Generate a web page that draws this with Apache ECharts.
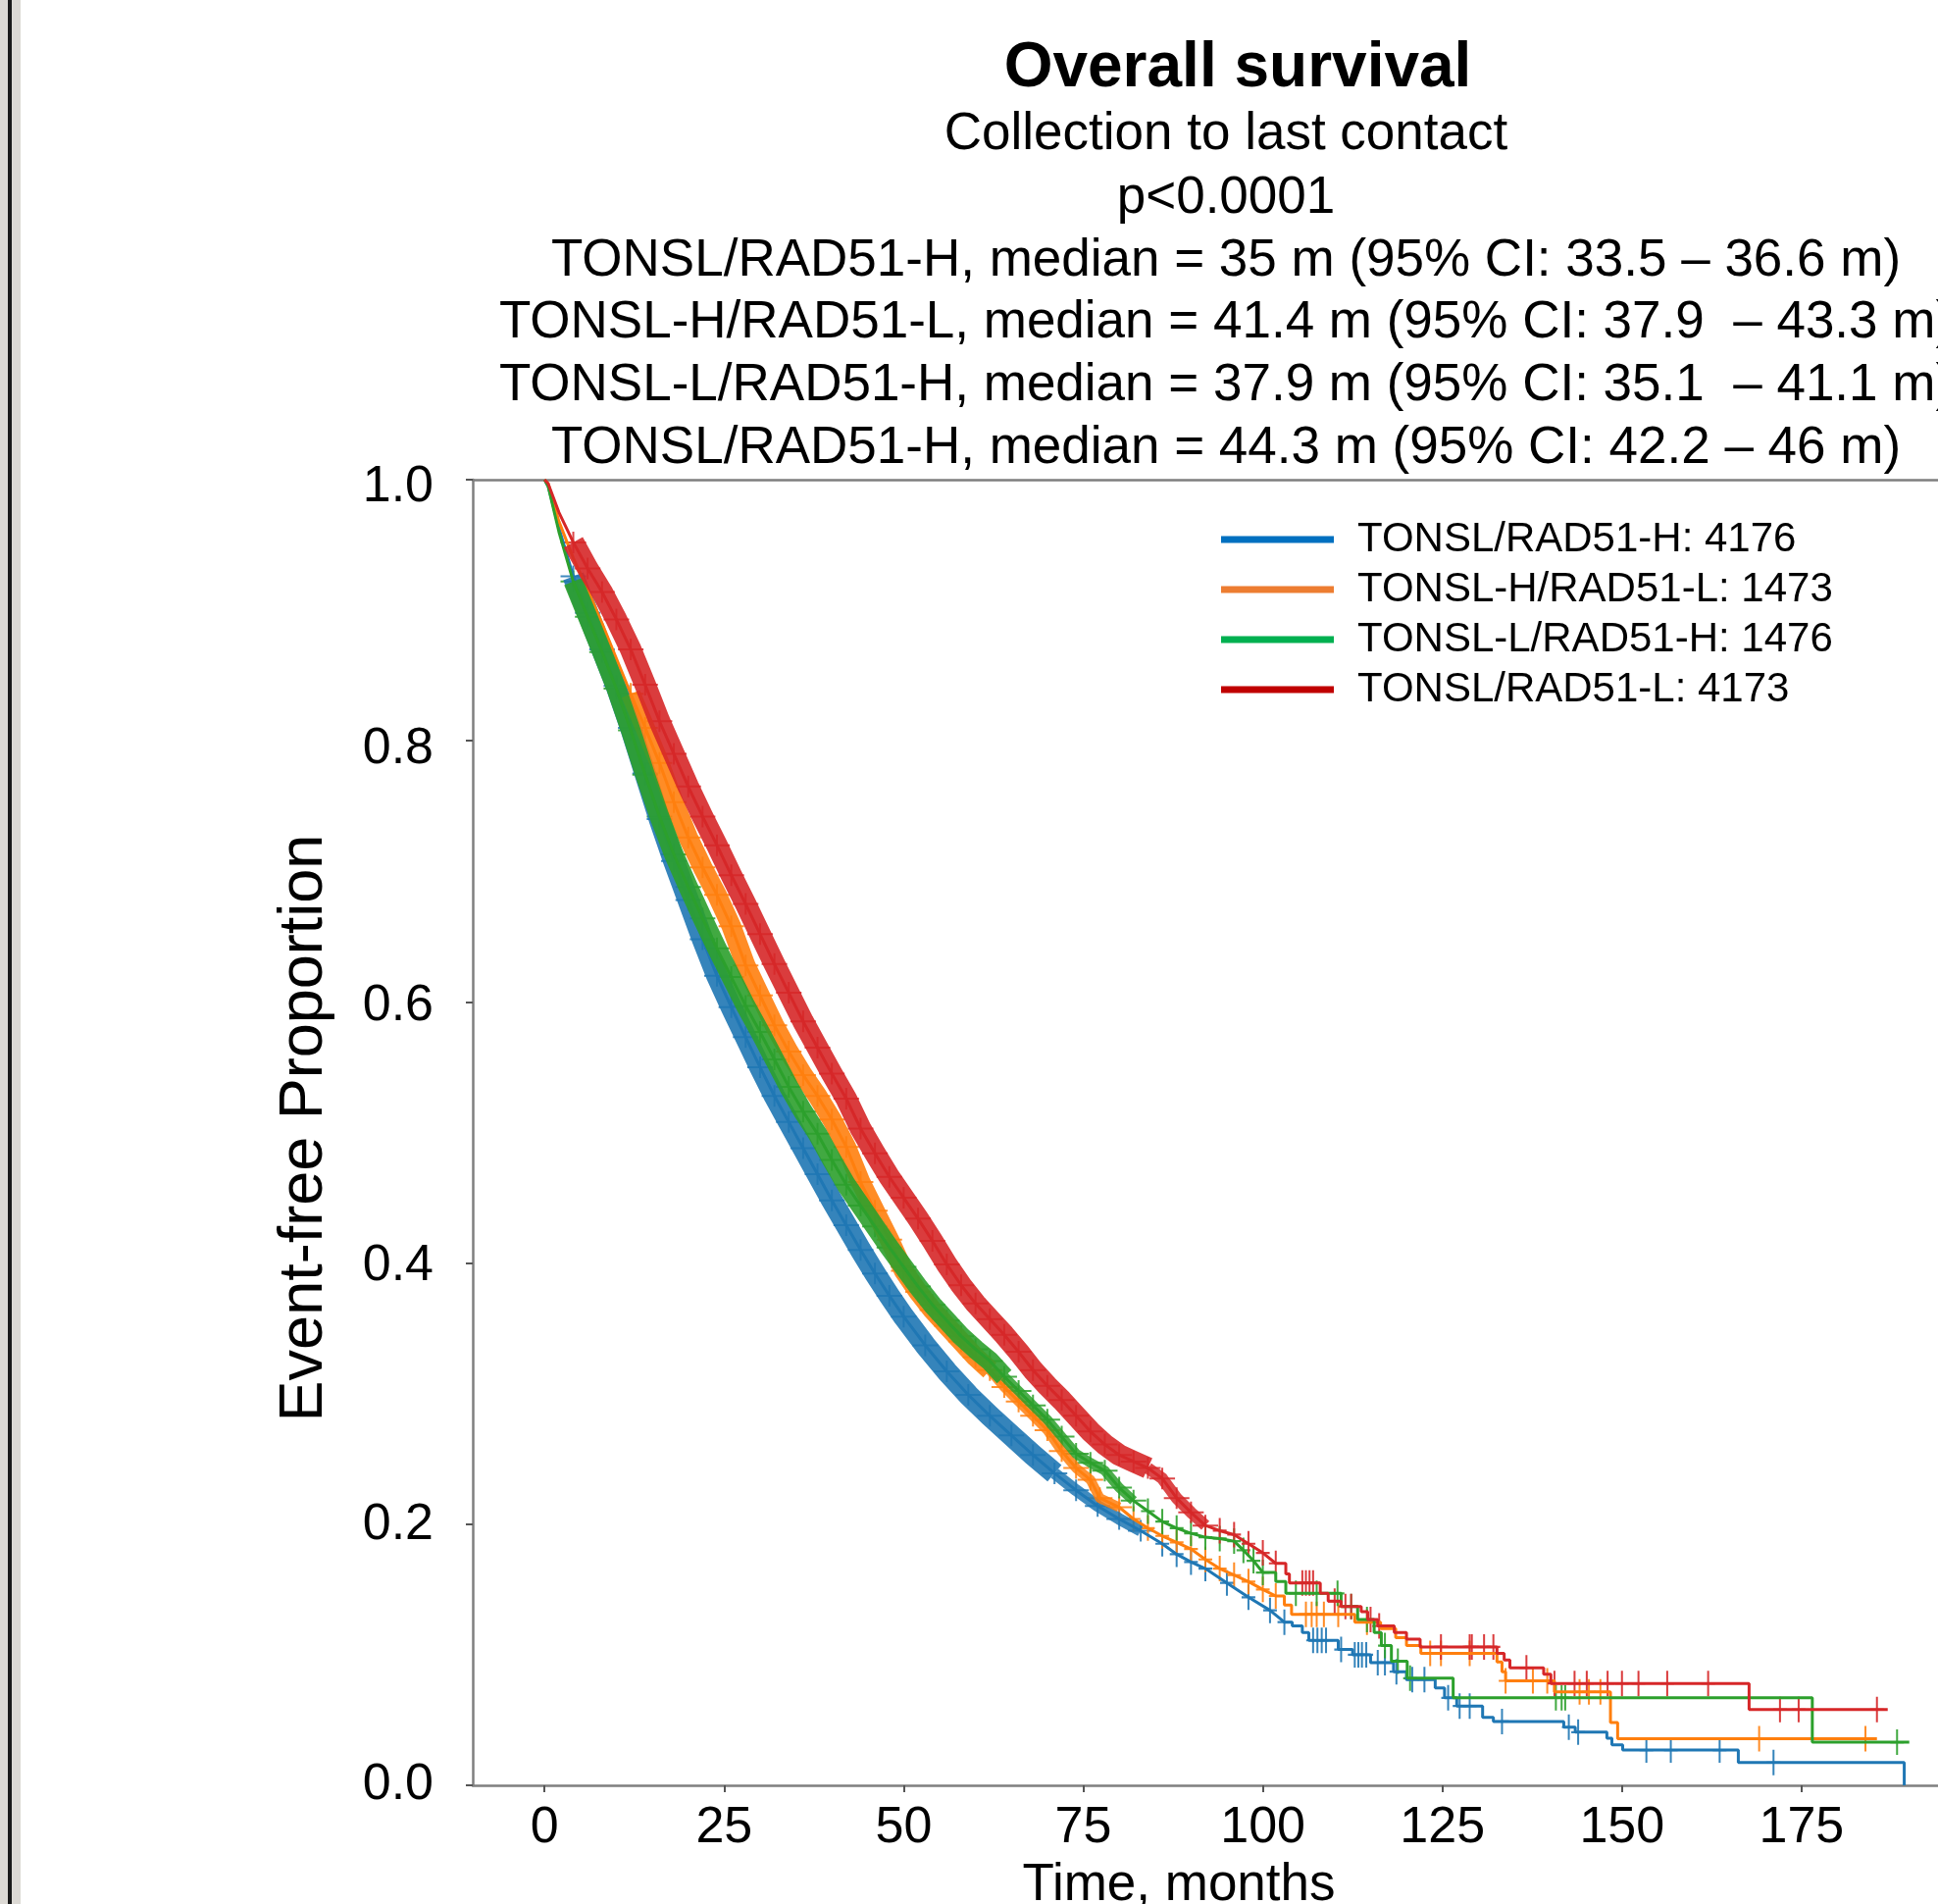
<!DOCTYPE html>
<html>
<head>
<meta charset="utf-8">
<title>Overall survival</title>
<script src="https://cdn.jsdelivr.net/npm/echarts@6/dist/echarts.min.js"></script>
<style>
  html, body { margin: 0; padding: 0; background: #fff; }
  #main { width: 1976px; height: 1941px; }
</style>
</head>
<body>
<div id="main"></div>
<script>
// ---- text ----
var titleText = 'Overall survival';
var headerLines = [
  'Collection to last contact',
  'p<0.0001',
  'TONSL/RAD51-H, median = 35 m (95% CI: 33.5 \u2013 36.6 m)',
  'TONSL-H/RAD51-L, median = 41.4 m (95% CI: 37.9  \u2013 43.3 m)',
  'TONSL-L/RAD51-H, median = 37.9 m (95% CI: 35.1  \u2013 41.1 m)',
  'TONSL/RAD51-H, median = 44.3 m (95% CI: 42.2 \u2013 46 m)'
];
var groupNames = ['TONSL/RAD51-H: 4176', 'TONSL-H/RAD51-L: 1473', 'TONSL-L/RAD51-H: 1476', 'TONSL/RAD51-L: 4173'];
var xTicks = [0, 25, 50, 75, 100, 125, 150, 175];

// ---- curves: [month, proportion] ----
var blueKnots = [[0,1],[0.5,0.995],[2,0.963],[4,0.926],[6,0.898],[8,0.870],[10,0.842],[12,0.810],[14,0.775],[16,0.740],[18,0.708],[20,0.678],[22,0.648],[24,0.620],[26,0.596],[28,0.573],[30,0.550],[32,0.528],[34,0.508],[36,0.488],[38,0.468],[40,0.448],[42,0.429],[44,0.410],[46,0.392],[48,0.375],[50,0.359],[53,0.337],[56,0.317],[59,0.299],[62,0.283],[65,0.268],[68,0.253],[71,0.239],[74,0.226],[77,0.214],[80,0.204],[83,0.195],[86,0.185],[88,0.177],[90,0.171],[92,0.166],[95,0.155],[98,0.144],[101,0.134],[103,0.125]];
var blueSteps = [[104.1,0.122],[105.5,0.117],[106.4,0.111],[110.5,0.104],[112.5,0.100],[115.0,0.094],[118.2,0.087],[120.0,0.081],[124.0,0.0745],[125.3,0.067],[127.0,0.0607],[130.6,0.052],[132.1,0.0489],[141.9,0.0445],[143.5,0.0407],[147.9,0.036],[148.6,0.031],[150.1,0.027],[166.2,0.0174],[189.3,0]];
var blueEnd = 189.3;
var blueMarks = [[107,0.111],[107.6,0.111],[108.2,0.111],[108.8,0.111],[110.9,0.104],[112.8,0.100],[113.3,0.100],[113.8,0.100],[114.4,0.100],[116.0,0.094],[117.0,0.094],[118.6,0.087],[120.8,0.081],[122.5,0.081],[125.8,0.067],[127.4,0.0607],[128.8,0.0607],[133.3,0.0489],[142.6,0.0445],[143.9,0.0407],[153.4,0.027],[156.8,0.027],[163.6,0.027],[171.1,0.0174]];

var orangeKnots = [[0,1],[0.5,0.997],[2,0.968],[4,0.940],[6,0.916],[8,0.890],[10,0.863],[12,0.836],[14,0.810],[16,0.783],[18,0.753],[20,0.726],[22,0.703],[24,0.682],[26,0.658],[28,0.628],[30,0.605],[32,0.582],[34,0.562],[36,0.544],[38,0.528],[40,0.510],[42,0.489],[44,0.462],[46,0.440],[48,0.418],[50,0.394],[52,0.378],[54,0.364],[56,0.352],[58,0.340],[60,0.328],[62,0.318],[64,0.305],[66,0.294],[68,0.283],[70,0.272],[72,0.256],[74,0.243],[76,0.234],[77.3,0.220],[80,0.213],[82,0.204],[84,0.197],[86,0.191],[88,0.186],[90,0.181],[92,0.173],[94,0.166],[96,0.161],[98,0.156],[100,0.150],[101.8,0.145]];
var orangeSteps = [[103,0.138],[104,0.131],[112.8,0.125],[116.4,0.120],[118.5,0.113],[120.0,0.107],[122.0,0.101],[132.6,0.0945],[133.3,0.087],[133.8,0.080],[140.6,0.0715],[148.4,0.048],[149.4,0.0357]];
var orangeEnd = 185.5;
var orangeMarks = [[106.0,0.131],[106.8,0.131],[107.5,0.131],[108.5,0.131],[110.5,0.131],[114.5,0.125],[123.3,0.101],[124.8,0.101],[128.8,0.101],[133.8,0.080],[137.6,0.080],[139.6,0.080],[144.1,0.0715],[145.4,0.0715],[147.0,0.0715],[169.1,0.0357],[183.9,0.0357]];

var greenKnots = [[0,1],[0.5,0.995],[2,0.960],[4,0.922],[6,0.895],[8,0.868],[10,0.840],[12,0.808],[14,0.774],[16,0.742],[18,0.713],[20,0.688],[22,0.664],[24,0.641],[26,0.619],[28,0.597],[30,0.577],[32,0.556],[34,0.535],[36,0.516],[38,0.499],[40,0.479],[42,0.460],[44,0.444],[46,0.428],[48,0.412],[50,0.397],[52,0.382],[54,0.368],[56,0.356],[58,0.344],[60,0.334],[62,0.325],[64,0.313],[66,0.302],[68,0.291],[70,0.280],[72,0.267],[74,0.254],[76,0.247],[78,0.241],[80,0.228],[82,0.218],[84,0.210],[86,0.202],[88,0.197],[90,0.193],[92,0.190],[94,0.189],[96,0.187],[97.3,0.180],[98.7,0.172],[100,0.163]];
var greenSteps = [[101.8,0.156],[103.2,0.147],[110.9,0.137],[113.2,0.127],[115.5,0.117],[116.5,0.107],[117.9,0.095],[120.1,0.082],[126.5,0.067],[176.5,0.033]];
var greenEnd = 190.0;
var greenMarks = [[104.6,0.147],[107.5,0.147],[110.4,0.147],[112.3,0.137],[114.5,0.127],[117.0,0.107],[118.8,0.095],[120.5,0.082],[140.8,0.067],[141.6,0.067],[142.1,0.067],[188.3,0.033]];

var redKnots = [[0,1],[0.5,0.997],[2,0.975],[4,0.952],[6,0.932],[8,0.914],[10,0.893],[12,0.870],[14,0.843],[16,0.815],[18,0.790],[20,0.765],[22,0.742],[24,0.720],[26,0.697],[28,0.675],[30,0.652],[32,0.629],[34,0.607],[36,0.585],[38,0.565],[40,0.545],[42,0.526],[44,0.503],[46,0.484],[48,0.466],[50,0.450],[52,0.434],[54,0.417],[56,0.399],[58,0.383],[60,0.369],[62,0.357],[64,0.345],[66,0.332],[68,0.318],[70,0.306],[72,0.295],[74,0.283],[76,0.271],[78,0.261],[80,0.253],[82,0.248],[84,0.243],[86,0.235],[88,0.220],[90,0.209],[92,0.199],[94,0.195],[96,0.192],[98,0.185],[100,0.178],[101.8,0.170]];
var redSteps = [[103.2,0.162],[103.7,0.155],[108.0,0.147],[109.1,0.141],[110.9,0.137],[113.7,0.133],[114.6,0.127],[116.0,0.122],[118.3,0.117],[120.0,0.112],[121.9,0.106],[132.6,0.101],[133.6,0.096],[134.4,0.090],[139.1,0.085],[140.1,0.078],[167.7,0.058]];
var redEnd = 187.0;
var redMarks = [[105.5,0.155],[106.0,0.155],[106.5,0.155],[107.0,0.155],[110.0,0.141],[111.5,0.137],[112.3,0.137],[115.0,0.127],[116.2,0.122],[124.8,0.106],[128.8,0.106],[129.1,0.106],[130.8,0.106],[132.1,0.106],[136.7,0.090],[140.6,0.078],[143.4,0.078],[145.1,0.078],[148.0,0.078],[150.0,0.078],[152.3,0.078],[156.3,0.078],[162.0,0.078],[172.0,0.058],[174.6,0.058],[185.5,0.058]];

var lineColors = ['#1f77b4', '#ff7f0e', '#2ca02c', '#d62728'];
var legendColors = ['#0070c0', '#ed7d31', '#00b050', '#c00000'];

var FONT = '"Liberation Sans", Arial, Helvetica, sans-serif';
var plus = 'path://M-1,-12H1V-1H7V1H1V12H-1V1H-7V-1H-1Z';
var widePlus = 'path://M-1,-11H1V-1H13V1H1V11H-1V1H-13V-1H-1Z';

function buildCurve(knots, steps, endT) {
  var pts = knots.slice();
  var s = knots[knots.length - 1][1];
  steps.forEach(function (p) {
    pts.push([p[0], s]);
    pts.push([p[0], p[1]]);
    s = p[1];
  });
  pts.push([endT, s]);
  return pts;
}
function between(knots, a, b) {
  return knots.filter(function (p) { return p[0] >= a && p[0] <= b; });
}

// dense censoring: wide band [start, end], thinner band [end, end2]
var groups = [
  {knots: blueKnots, steps: blueSteps, end: blueEnd, marks: blueMarks, band: [4, 71, 83], bw: [22, 12]},
  {knots: orangeKnots, steps: orangeSteps, end: orangeEnd, marks: orangeMarks, band: [12, 62, 80], bw: [20, 10]},
  {knots: greenKnots, steps: greenSteps, end: greenEnd, marks: greenMarks, band: [4, 64, 82], bw: [20, 10]},
  {knots: redKnots, steps: redSteps, end: redEnd, marks: redMarks, band: [4, 84, 92], bw: [22, 12]}
];

var series = [];
groups.forEach(function (g, i) {
  var name = groupNames[i];
  var c = lineColors[i];
  var wide = between(g.knots, g.band[0], g.band[1]);
  var thin = between(g.knots, g.band[1], g.band[2]);
  series.push({
    name: name, type: 'line', silent: true, showSymbol: false, data: wide,
    lineStyle: {color: c, width: g.bw[0], opacity: 0.9, cap: 'butt', join: 'round'}, itemStyle: {color: c}
  });
  series.push({
    name: name, type: 'line', silent: true, showSymbol: false, data: thin,
    lineStyle: {color: c, width: g.bw[1], opacity: 0.85, cap: 'butt', join: 'round'}, itemStyle: {color: c}
  });
  series.push({
    name: name, type: 'scatter', silent: true, symbol: widePlus, symbolSize: [26, 22],
    data: between(g.knots, g.band[0], g.band[2]), itemStyle: {color: c, opacity: 0.85}
  });
  series.push({
    name: name, type: 'line', silent: true, showSymbol: false,
    data: buildCurve(g.knots, g.steps, g.end),
    lineStyle: {color: c, width: 3}, itemStyle: {color: c}
  });
  series.push({
    name: name, type: 'scatter', silent: true, symbol: plus, symbolSize: [14, 26],
    data: g.knots.filter(function (p) { return p[0] > g.band[2]; }).concat(g.marks),
    itemStyle: {color: c, opacity: 0.9}
  });
});

var graphics = [
  {type: 'rect', shape: {x: 0, y: 0, width: 21, height: 1941}, style: {fill: '#dcd9d4'}},
  {type: 'rect', shape: {x: 8, y: 0, width: 4, height: 1941}, style: {fill: '#1a1a1a'}},
  {type: 'text', x: 1262, y: 70, style: {text: titleText, font: 'bold 64px ' + FONT, fill: '#000',
    align: 'center', verticalAlign: 'middle', textAlign: 'center', textVerticalAlign: 'middle'}}
];
var lineY = [137, 202, 266, 329, 393, 457];
headerLines.forEach(function (t, i) {
  graphics.push({type: 'text', x: 1250, y: lineY[i], style: {text: t, font: '53px ' + FONT, fill: '#000',
    align: 'center', verticalAlign: 'middle', textAlign: 'center', textVerticalAlign: 'middle'}});
});
graphics.push({type: 'text', x: 311, y: 1150, rotation: Math.PI / 2, style: {text: 'Event-free Proportion',
  font: '63px ' + FONT, fill: '#000', align: 'center', verticalAlign: 'middle', textAlign: 'center', textVerticalAlign: 'middle'}});
graphics.push({type: 'text', x: 1202, y: 1922, style: {text: 'Time, months',
  font: '53px ' + FONT, fill: '#000', align: 'center', verticalAlign: 'middle', textAlign: 'center', textVerticalAlign: 'middle'}});

var axisLine = {show: true, onZero: false, lineStyle: {color: '#7f7f7f', width: 2.5}};

// y tick labels sit slightly below their ticks near the top, as in the source figure
function yRich(pad) {
  return {fontSize: 52, color: '#000', fontFamily: FONT, padding: [pad, 0, 0, 0]};
}

var chart = echarts.init(document.getElementById('main'));
chart.setOption({
  animation: false,
  backgroundColor: '#fff',
  textStyle: {fontFamily: FONT},
  grid: {left: 482, right: 0, top: 489, bottom: 121, containLabel: false, outerBoundsMode: 'none'},
  legend: {
    orient: 'vertical', left: 1240, top: 524,
    itemWidth: 115, itemHeight: 7, itemGap: 9, icon: 'rect',
    textStyle: {fontSize: 42, color: '#000', fontFamily: FONT, padding: [0, 0, 0, 19]},
    data: groupNames.map(function (n, i) { return {name: n, itemStyle: {color: legendColors[i]}}; })
  },
  xAxis: [{
    type: 'value', min: -10, max: 194,
    axisLine: axisLine,
    axisTick: {show: true, customValues: xTicks, length: 7, lineStyle: {color: '#555', width: 2}},
    axisLabel: {customValues: xTicks, fontSize: 52, color: '#000', margin: 18, fontFamily: FONT},
    splitLine: {show: false}
  }, {
    type: 'value', position: 'top', min: -10, max: 194,
    axisLine: axisLine, axisTick: {show: false}, axisLabel: {show: false}, splitLine: {show: false}
  }],
  yAxis: {
    type: 'value', min: 0, max: 1, interval: 0.2,
    axisLine: axisLine,
    axisTick: {show: true, length: 7, lineStyle: {color: '#555', width: 2}},
    axisLabel: {fontSize: 52, color: '#000', margin: 40, fontFamily: FONT,
      formatter: function (v) { return '{p' + Math.round(v * 10) + '|' + v.toFixed(1) + '}'; },
      rich: {p10: yRich(16), p8: yRich(16), p6: yRich(8), p4: yRich(6), p2: yRich(2), p0: yRich(0)}},
    splitLine: {show: false}
  },
  graphic: graphics,
  series: series
});
</script>
</body>
</html>
